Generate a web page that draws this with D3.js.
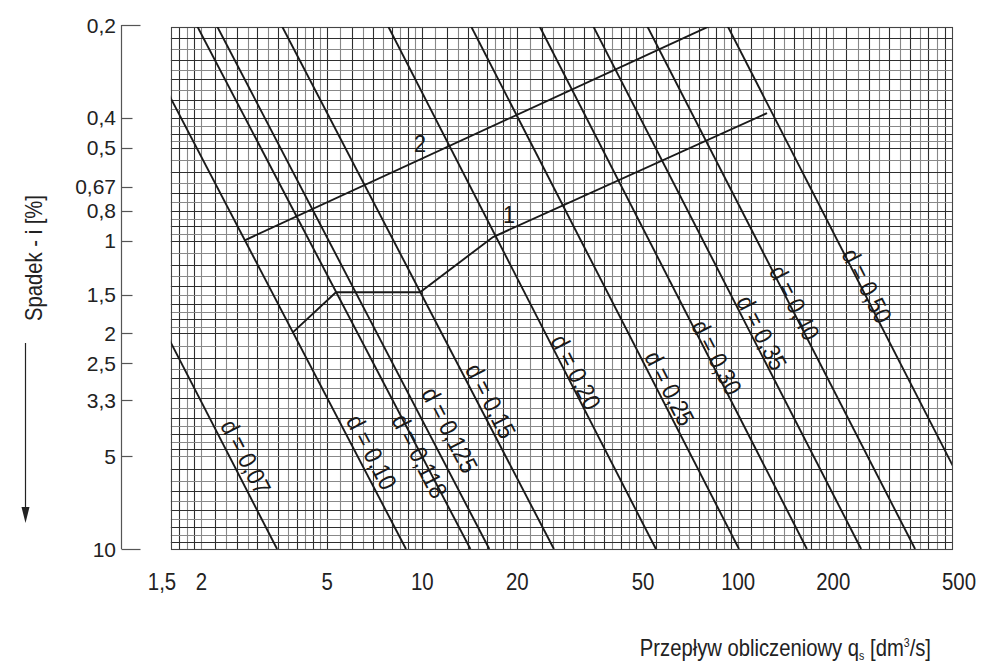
<!DOCTYPE html>
<html><head><meta charset="utf-8">
<script src="https://cdn.jsdelivr.net/npm/d3@7"></script>
<style>
html,body{margin:0;padding:0;background:#fff;}
svg{display:block;}
</style></head><body>
<svg id="chart" width="987" height="664"></svg>
<script>
// ---------- data ----------
const flowTicks = [1.5, 2, 5, 10, 20, 50, 100, 200, 500];
const flowTickLabels = ["1,5", "2", "5", "10", "20", "50", "100", "200", "500"];
const slopeTicks = [0.2, 0.4, 0.5, 0.67, 0.8, 1, 1.5, 2, 2.5, 3.3, 5, 10];
const slopeTickLabels = ["0,2", "0,4", "0,5", "0,67", "0,8", "1", "1,5", "2", "2,5", "3,3", "5", "10"];
const gridFlowRange = [1.6, 475];
const gridSlopeRange = [0.203, 10];
const gridMantissas = [1, 1.1, 1.2, 1.3, 1.4, 1.5, 1.6, 1.7, 1.8, 1.9, 2, 2.2, 2.4, 2.6, 2.8, 3, 3.25, 3.5, 3.75, 4, 4.25, 4.5, 4.75, 5, 5.5, 6, 6.5, 7, 7.5, 8, 8.5, 9, 9.5];
const diameterLabels = ["0,07", "0,10", "0,118", "0,125", "0,15", "0,20", "0,25", "0,30", "0,35", "0,40", "0,50"];
const flowAtTopSlope = [0.486, 1.21, 1.93, 2.23, 3.58, 7.76, 14.2, 23.4, 34.6, 51.3, 92.2];   // q at i = 0.2
const flowAtBottomSlope = [3.47, 8.88, 14.2, 16.3, 26.1, 54.9, 100.6, 165, 245, 363, 652];   // q at i = 10
const lineEndSlopes = [0.2, 10];
const diameterLabelFlow = [2.77, 6.93, 9.83, 12.24, 16.5, 30.7, 60.8, 85.7, 119, 151, 256];
const diameterLabelSlope = [5.03, 4.85, 4.99, 4.11, 3.31, 2.67, 3.01, 2.39, 1.99, 1.59, 1.40];
const curve1Flow = [3.90, 5.33, 9.84, 16.75, 123.4];
const curve1Slope = [1.98, 1.47, 1.47, 0.974, 0.386];
const curve2Flow = [2.73, 82.6];
const curve2Slope = [1.0, 0.2];
const curveNames = ["1", "2"];
const curveLabelFlow = [18.8, 9.84];
const curveLabelSlope = [0.82, 0.483];

// ---------- scales ----------
const svg = d3.select("#chart");
const x = d3.scaleLog().domain([1.5, 500]).range([162, 959]);
const y = d3.scaleLog().domain([0.2, 10]).range([25, 549]);
const font = "'Liberation Sans',Arial,Helvetica,sans-serif";
const snap = v => Math.round(v) + 0.5;
const ink = "#1a1a1a";

const gx0 = x(gridFlowRange[0]), gx1 = x(gridFlowRange[1]);
const gy0 = y(gridSlopeRange[0]), gy1 = y(gridSlopeRange[1]);

function gridValues(range) {
  const vals = [];
  for (let e = -1; e <= 3; e++) {
    gridMantissas.forEach(m => {
      const v = +(m * Math.pow(10, e)).toPrecision(6);
      if (v > range[0] * 1.001 && v < range[1] * 0.999) vals.push(v);
    });
  }
  return vals;
}

// ---------- grid ----------
const grid = svg.append("g");
const vVals = gridValues(gridFlowRange);
grid.selectAll("line.v").data(vVals).join("line").attr("class", "v")
  .attr("x1", d => snap(x(d))).attr("x2", d => snap(x(d)))
  .attr("y1", gy0).attr("y2", gy1)
  .attr("stroke", (d, i) => i % 2 ? "#888" : "#2e2e2e")
  .attr("stroke-width", 1.1);
const hVals = gridValues(gridSlopeRange);
grid.selectAll("line.h").data(hVals).join("line").attr("class", "h")
  .attr("y1", d => snap(y(d))).attr("y2", d => snap(y(d)))
  .attr("x1", gx0).attr("x2", gx1)
  .attr("stroke", (d, i) => i % 2 ? "#888" : "#2e2e2e")
  .attr("stroke-width", 1.1);
grid.append("rect")
  .attr("x", snap(gx0)).attr("y", snap(gy0))
  .attr("width", Math.round(gx1 - gx0)).attr("height", Math.round(gy1 - gy0))
  .attr("fill", "none").attr("stroke", "#444").attr("stroke-width", 1.1);

svg.append("clipPath").attr("id", "clip").append("rect")
  .attr("x", gx0).attr("y", gy0).attr("width", gx1 - gx0).attr("height", gy1 - gy0);

// ---------- diameter lines ----------
const lineData = diameterLabels.map((lab, k) => ({
  lab,
  pts: [[flowAtTopSlope[k], lineEndSlopes[0]], [flowAtBottomSlope[k], lineEndSlopes[1]]],
  lq: diameterLabelFlow[k], li: diameterLabelSlope[k]
}));
const lineGen = d3.line().x(d => x(d[0])).y(d => y(d[1]));
svg.append("g").attr("clip-path", "url(#clip)")
  .selectAll("path").data(lineData).join("path")
  .attr("d", d => lineGen(d.pts))
  .attr("fill", "none").attr("stroke", ink).attr("stroke-width", 1.9);

svg.append("g").selectAll("text").data(lineData).join("text")
  .attr("transform", d => {
    const [p0, p1] = d.pts;
    const ang = Math.atan2(y(p1[1]) - y(p0[1]), x(p1[0]) - x(p0[0])) * 180 / Math.PI;
    return `translate(${x(d.lq)},${y(d.li)}) rotate(${ang}) scale(0.88,1)`;
  })
  .attr("dy", "0.36em")
  .attr("text-anchor", "middle")
  .attr("font-family", font).attr("font-size", 25).attr("fill", ink)
  .text(d => "d = " + d.lab);

// ---------- curves 1 & 2 ----------
const curves = [curve1Flow.map((q, k) => [q, curve1Slope[k]]), curve2Flow.map((q, k) => [q, curve2Slope[k]])];
svg.append("g").attr("clip-path", "url(#clip)")
  .selectAll("path").data(curves).join("path")
  .attr("d", lineGen).attr("fill", "none").attr("stroke", ink).attr("stroke-width", 1.9);
svg.append("g").selectAll("text").data(curveNames).join("text")
  .attr("transform", (d, k) => `translate(${x(curveLabelFlow[k])},${y(curveLabelSlope[k])}) scale(0.9,1)`)
  .attr("dy", "0.36em").attr("text-anchor", "middle")
  .attr("font-family", font).attr("font-size", 24).attr("fill", ink)
  .text(d => d);

// ---------- y axis bracket ----------
const ax = svg.append("g").attr("stroke", "#555").attr("stroke-width", 1.2).attr("fill", "none");
const axX = 121.5;
ax.append("line").attr("x1", axX).attr("x2", axX).attr("y1", y(slopeTicks[0])).attr("y2", y(slopeTicks[slopeTicks.length - 1]));
ax.selectAll("line.t").data(slopeTicks).join("line").attr("class", "t")
  .attr("x1", axX)
  .attr("x2", (d, k) => (k === 0 || k === slopeTicks.length - 1) ? axX + 19 : axX + 11)
  .attr("y1", d => snap(y(d))).attr("y2", d => snap(y(d)));
svg.append("g").selectAll("text").data(slopeTicks).join("text")
  .attr("x", 116).attr("y", d => y(d)).attr("dy", "0.36em")
  .attr("text-anchor", "end")
  .attr("font-family", font).attr("font-size", 21).attr("fill", "#222")
  .text((d, k) => slopeTickLabels[k]);

// ---------- x tick labels ----------
svg.append("g").selectAll("text").data(flowTicks).join("text")
  .attr("transform", d => `translate(${x(d)},590) scale(0.85,1)`)
  .attr("text-anchor", "middle")
  .attr("font-family", font).attr("font-size", 24).attr("fill", "#222")
  .text((d, k) => flowTickLabels[k]);

// ---------- axis titles ----------
svg.append("text")
  .attr("transform", "translate(34,258) rotate(-90) scale(0.88,1)")
  .attr("dy", "0.35em").attr("text-anchor", "middle")
  .attr("font-family", font).attr("font-size", 23).attr("fill", "#222")
  .text("Spadek - i [%]");
svg.append("line").attr("x1", 25.5).attr("x2", 25.5).attr("y1", 343).attr("y2", 512)
  .attr("stroke", "#222").attr("stroke-width", 1.2);
svg.append("path").attr("d", "M21.5,507 L29.5,507 L25.5,523 Z").attr("fill", "#222");

const xt = svg.append("text")
  .attr("transform", "translate(931,656) scale(0.88,1)").attr("text-anchor", "end")
  .attr("font-family", font).attr("font-size", 23).attr("fill", "#222");
xt.append("tspan").text("Przepływ obliczeniowy q");
xt.append("tspan").attr("font-size", 12).attr("dy", 4).text("s");
xt.append("tspan").attr("dy", -4).text(" [dm");
xt.append("tspan").attr("font-size", 12).attr("dy", -9).text("3");
xt.append("tspan").attr("dy", 9).text("/s]");
</script>
</body></html>
